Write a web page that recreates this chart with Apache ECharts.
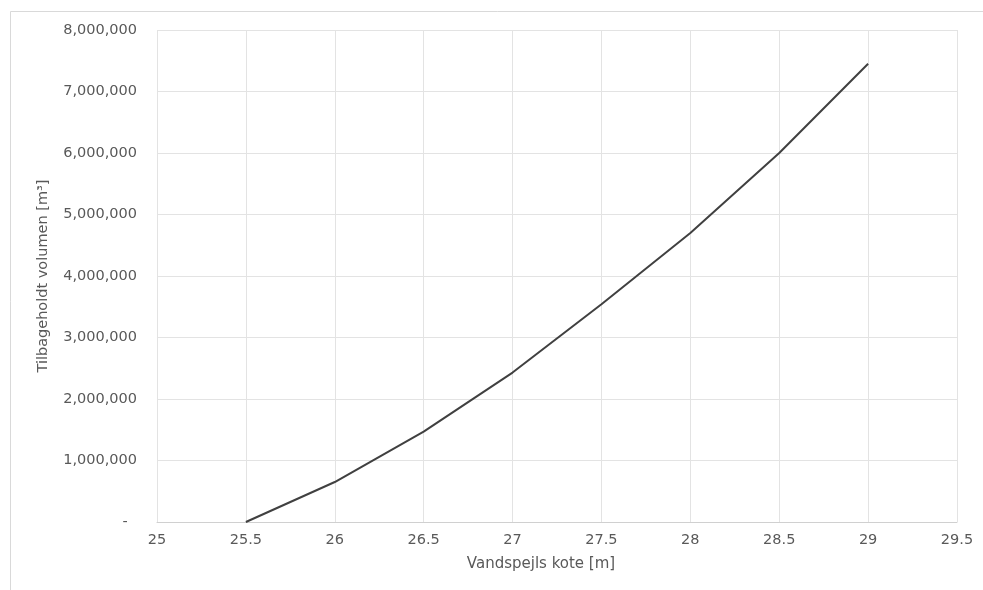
<!DOCTYPE html>
<html>
<head>
<meta charset="utf-8">
<script src="https://cdn.jsdelivr.net/npm/echarts@6/dist/echarts.min.js"></script>
<style>
  html, body { margin: 0; padding: 0; background: #ffffff; }
  #chart { width: 983px; height: 590px; }
</style>
</head>
<body>
<div id="chart"></div>
<script>
// Water level (m) against retained volume (m³)
const waterLevels = [25.5, 26, 26.5, 27, 27.5, 28, 28.5, 29];
const volumes = [0, 650000, 1470000, 2430000, 3540000, 4700000, 6000000, 7450000];

const xTitle = 'Vandspejls kote [m]';
const yTitle = 'Tilbageholdt volumen [m³]';

const font = 'DejaVu Sans, Verdana, sans-serif';
const textColor = '#595959';
const gridColor = '#e3e3e3';
const axisColor = '#d0d0d0';

const chart = echarts.init(document.getElementById('chart'), null, { renderer: 'canvas' });

chart.setOption({
  animation: false,
  backgroundColor: '#ffffff',
  grid: { left: 157, right: 26, top: 30, bottom: 68, containLabel: false },
  graphic: [{
    type: 'rect',
    silent: true,
    shape: { x: 10.5, y: 11.5, width: 1000, height: 600 },
    style: { fill: 'none', stroke: '#d9d9d9', lineWidth: 1 }
  }],
  xAxis: {
    type: 'value',
    min: 25,
    max: 29.5,
    interval: 0.5,
    name: xTitle,
    nameLocation: 'middle',
    nameGap: 35,
    nameTextStyle: { fontFamily: font, fontSize: 15, color: textColor, padding: [0, 32, 0, 0] },
    axisLine: { show: true, lineStyle: { color: axisColor, width: 1 } },
    axisTick: { show: false },
    axisLabel: { fontFamily: font, fontSize: 14.5, color: textColor, margin: 11 },
    splitLine: { show: true, lineStyle: { color: gridColor, width: 1 } }
  },
  yAxis: {
    type: 'value',
    min: 0,
    max: 8000000,
    interval: 1000000,
    name: yTitle,
    nameLocation: 'middle',
    nameGap: 106,
    nameTextStyle: { fontFamily: font, fontSize: 14.5, color: textColor },
    axisLine: { show: false },
    axisTick: { show: false },
    axisLabel: {
      fontFamily: font, fontSize: 14.5, color: textColor, margin: 20,
      formatter: v => v === 0 ? '-  ' : v.toLocaleString('en-US')
    },
    splitLine: { show: true, lineStyle: { color: gridColor, width: 1 } }
  },
  series: [{
    type: 'line',
    data: waterLevels.map((x, i) => [x, volumes[i]]),
    showSymbol: false,
    symbol: 'none',
    lineStyle: { color: '#404040', width: 2 }
  }]
});
</script>
</body>
</html>
